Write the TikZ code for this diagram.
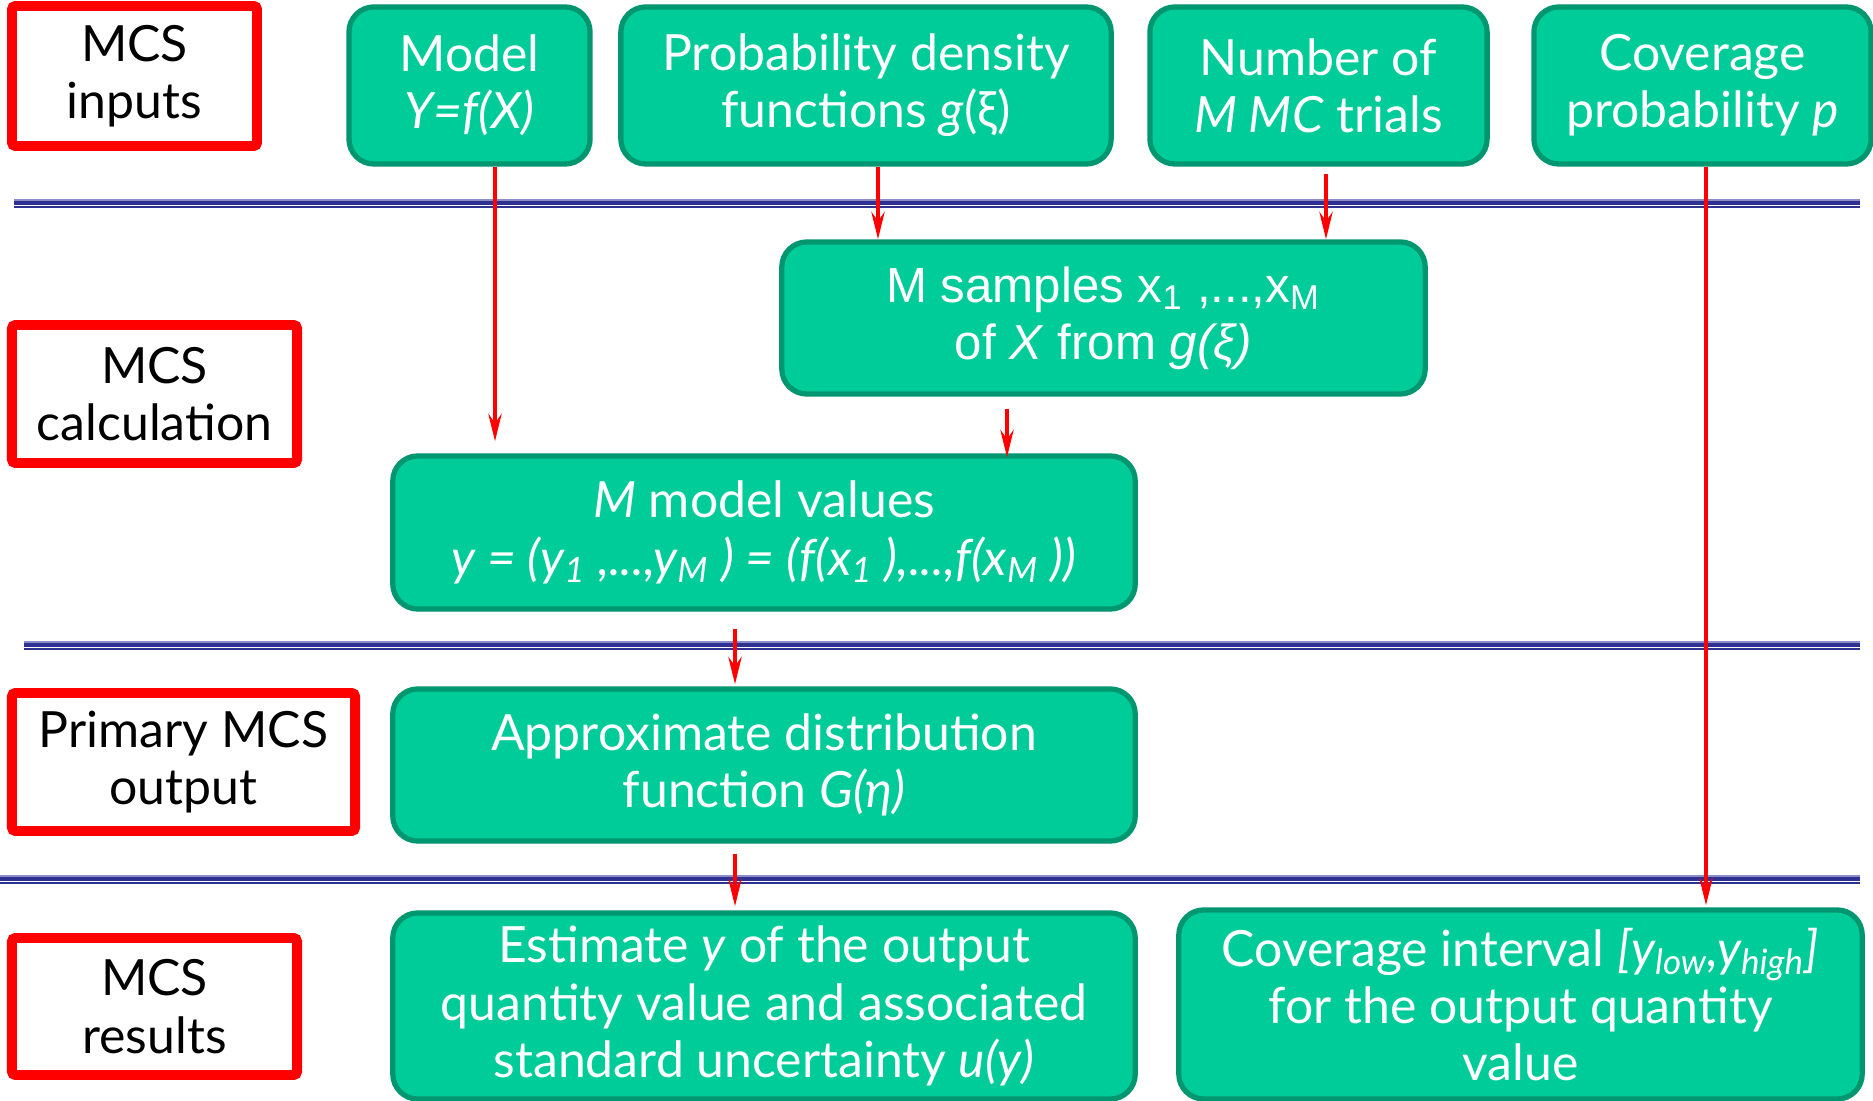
\documentclass[tikz,border=0pt]{standalone}
\usepackage{fontspec}
\setmainfont{Lato}
\newfontfamily\arialfont{Liberation Sans}
\usetikzlibrary{arrows.meta,calc}
\definecolor{boxgreen}{RGB}{0,204,153}
\definecolor{boxedge}{RGB}{0,150,112}
\definecolor{lineblue}{RGB}{46,49,146}
\definecolor{lineblue2}{RGB}{140,140,200}

\begin{document}
\begin{tikzpicture}[x=0.01cm, y=-0.01cm, >={Stealth[length=0.27cm, width=0.13cm]}, font=\fontsize{14.2}{16.3}\selectfont,
    lbl/.style={draw=red, line width=2.8pt, fill=white, text=black, align=center, inner sep=0pt, rounded corners=1pt},
    blk/.style={draw=boxedge, fill=boxgreen, line width=1.5pt, rounded corners=0.25cm, text=white, align=center, inner sep=0pt},
    arr/.style={->, draw=red, line width=1.3pt},
    sep/.style={draw=lineblue, line width=1.2pt},
    septhin/.style={draw=lineblue2, line width=0.5pt}]
    \useasboundingbox[fill=white] (0,0) rectangle (1873,1101);

    % left labels
    \node[lbl, minimum width=2.45cm, minimum height=1.40cm] (inputs) at (134.5,76) {MCS\\inputs};
    \node[lbl, minimum width=2.85cm, minimum height=1.38cm] (calc) at (154.5,394) {MCS\\calculation};
    \node[lbl, minimum width=3.43cm, minimum height=1.38cm] (primary) at (183.5,762) {Primary MCS\\output};
    \node[lbl, minimum width=2.85cm, minimum height=1.37cm] (results) at (154.5,1006.5) {MCS\\results};

    % inputs
    \node[blk, minimum width=2.41cm, minimum height=1.57cm] (model) at (469.5,85.5) {Model\\\textit{Y=f(X)}};
    \node[blk, minimum width=4.90cm, minimum height=1.57cm] (pdf) at (866,85.5) {Probability density\\functions \textit{g}(ξ)};
    \node[blk, minimum width=3.37cm, minimum height=1.57cm] (number) at (1318.5,85.5) {Number of\\\textit{M MC} trials};
    \node[blk, minimum width=3.37cm, minimum height=1.57cm] (cov) at (1702.5,85.5) {Coverage\\probability \textit{p}};

    % calculation
    \node[blk, minimum width=6.43cm, minimum height=1.52cm, font=\arialfont\fontsize{14}{16.3}\selectfont] (samples) at (1103.5,318) {M samples x\textsubscript{1} ,...,x\textsubscript{M}\\of \textit{X} from \textit{g(ξ)}};
    \node[blk, minimum width=7.42cm, minimum height=1.53cm] (mvals) at (764,532.5) {\textit{M} model values\\\textit{y = (y\textsubscript{1} ,...,y\textsubscript{M} ) = (f(x\textsubscript{1} ),...,f(x\textsubscript{M} ))}};

    % output and results
    \node[blk, minimum width=7.42cm, minimum height=1.52cm] (approx) at (764,765) {Approximate distribution\\function \textit{G(η)}};
    \node[blk, minimum width=7.42cm, minimum height=1.86cm] (est) at (764,1006) {Estimate \textit{y} of the output\\quantity value and associated\\standard uncertainty \textit{u(y)}};
    \node[blk, minimum width=6.83cm, minimum height=1.89cm] (covint) at (1520.5,1004.5) {Coverage interval \textit{[y\textsubscript{low},y\textsubscript{high}]}\\for the output quantity\\value};

    % separators
    \foreach \y/\x in {203/14, 645/24, 879/0} {
        \draw[septhin] (\x,\y-3) -- (1860,\y-3);
        \draw[sep] (\x,\y) -- (1860,\y);
        \draw[sep, line width=0.6pt] (\x,\y+4) -- (1860,\y+4);
    }

    % flow
    \draw[arr] ($(model.south)+(25.5,0)$) -- ($(model.south |- mvals.north)+(25.5,-12)$);
    \draw[arr] ($(pdf.south)+(12,0)$) -- ($(pdf.south |- samples.north)+(12,0)$);
    \draw[arr] ($(number.south)+(7.5,7)$) -- ($(number.south |- samples.north)+(7.5,0)$);
    \draw[arr] ($(samples.south)+(-96.5,12)$) -- ($(samples.south |- mvals.north)+(-96.5,4)$);
    \draw[arr] ($(mvals.south)+(-29,17)$) -- ($(mvals.south |- approx.north)+(-29,-2)$);
    \draw[arr] ($(approx.south)+(-29,10)$) -- ($(approx.south |- est.north)+(-29,-4)$);
    \draw[arr] ($(cov.south)+(3.5,0)$) -- ($(cov.south |- covint.north)+(3.5,-2)$);
\end{tikzpicture}
\end{document}
